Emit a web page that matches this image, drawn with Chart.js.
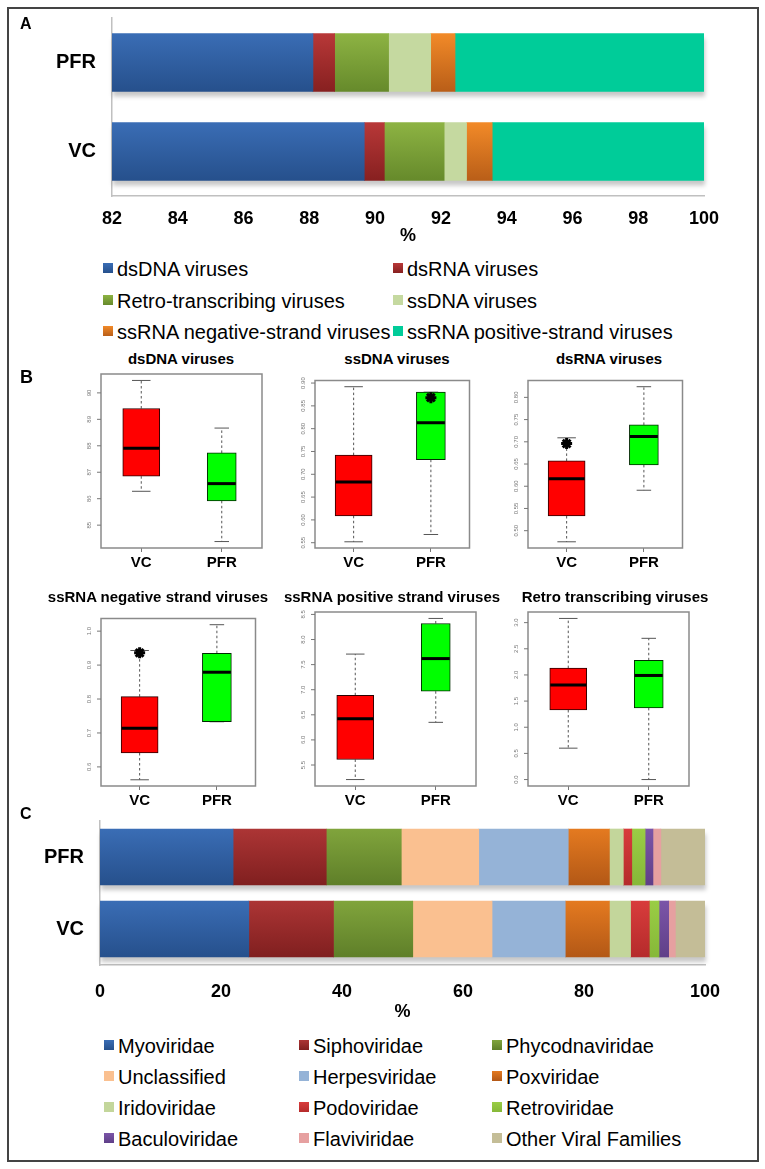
<!DOCTYPE html>
<html><head><meta charset="utf-8">
<script src="https://cdn.jsdelivr.net/npm/chart.js@4.4.0/dist/chart.umd.min.js"></script>
<style>
body{margin:0;background:#fff;width:765px;height:1169px;position:relative;overflow:hidden;font-family:"Liberation Sans",Arial,sans-serif;color:#000;}
#frame{position:absolute;left:7px;top:7px;width:752px;height:1155px;border:2px solid #444;box-sizing:border-box;}
.plabel{position:absolute;font-weight:bold;font-size:16px;line-height:16px;}
.leg{position:absolute;font-size:20px;line-height:20px;white-space:nowrap;}
.sq{position:absolute;width:10px;height:10px;}
.ttl{position:absolute;font-weight:bold;font-size:15px;line-height:16px;white-space:nowrap;transform:translateX(-50%);}
canvas{position:absolute;}
</style></head><body>
<div id="frame"></div>
<canvas id="cA" width="765" height="250" style="left:0;top:0"></canvas>
<canvas id="cC" width="765" height="230" style="left:0;top:800px"></canvas>
<div id="extra"></div>
<div class="plabel" style="left:20px;top:16px">A</div>
<div class="plabel" style="left:20px;top:369px;font-size:18px">B</div>
<div class="plabel" style="left:20px;top:806px">C</div>
<script>
// ---------- Panel A data ----------
const groupsA = ['PFR', 'VC'];
const seriesA = ['dsDNA viruses', 'dsRNA viruses', 'Retro-transcribing viruses', 'ssDNA viruses', 'ssRNA negative-strand viruses', 'ssRNA positive-strand viruses'];
const dsDNA_A = [88.11, 89.67];
const dsRNA_A = [0.66, 0.61];
const retro_A = [1.64, 1.82];
const ssDNA_A = [1.28, 0.68];
const ssRNAneg_A = [0.74, 0.78];
const ssRNApos_A = [7.57, 6.44];
const ticksA = [82, 84, 86, 88, 90, 92, 94, 96, 98, 100];

// ---------- Panel B data: [lower whisker, Q1, median, Q3, upper whisker] ----------
const boxTitles = ['dsDNA viruses', 'ssDNA viruses', 'dsRNA viruses', 'ssRNA negative strand viruses', 'ssRNA positive strand viruses', 'Retro transcribing viruses'];
const boxGroups = ['VC', 'PFR'];
const vcDsDNA = [86.28, 86.85, 87.91, 89.41, 90.47];
const pfrDsDNA = [84.38, 85.92, 86.57, 87.73, 88.67];
const vcSsDNA = [0.552, 0.609, 0.683, 0.742, 0.892];
const pfrSsDNA = [0.568, 0.732, 0.813, 0.880, 0.880];
const vcDsRNA = [0.475, 0.533, 0.617, 0.657, 0.709];
const pfrDsRNA = [0.591, 0.648, 0.712, 0.738, 0.824];
const vcSsRNAneg = [0.562, 0.641, 0.714, 0.807, 0.943];
const pfrSsRNAneg = [0.733, 0.733, 0.879, 0.935, 1.019];
const vcSsRNApos = [5.21, 5.61, 6.42, 6.89, 7.71];
const pfrSsRNApos = [6.35, 6.97, 7.62, 8.32, 8.42];
const vcRetro = [0.60, 1.33, 1.81, 2.13, 3.08];
const pfrRetro = [0.00, 1.37, 1.99, 2.28, 2.70];
const starGroup = [null, 'PFR', 'VC', 'VC', null, null];
const starValue = [null, 0.868, 0.696, 0.936, null, null];
const ticksDsDNA = ['85', '86', '87', '88', '89', '90'];
const ticksSsDNA = ['0.55', '0.60', '0.65', '0.70', '0.75', '0.80', '0.85', '0.90'];
const ticksDsRNA = ['0.50', '0.55', '0.60', '0.65', '0.70', '0.75', '0.80'];
const ticksSsRNAneg = ['0.6', '0.7', '0.8', '0.9', '1.0'];
const ticksSsRNApos = ['5.5', '6.0', '6.5', '7.0', '7.5', '8.0', '8.5'];
const ticksRetro = ['0.0', '0.5', '1.0', '1.5', '2.0', '2.5', '3.0'];

// ---------- Panel C data ----------
const groupsC = ['PFR', 'VC'];
const familiesC = ['Myoviridae', 'Siphoviridae', 'Phycodnaviridae', 'Unclassified', 'Herpesviridae', 'Poxviridae', 'Iridoviridae', 'Podoviridae', 'Retroviridae', 'Baculoviridae', 'Flaviviridae', 'Other Viral Families'];
const pfrC = [22.0, 15.4, 12.4, 12.8, 14.8, 6.8, 2.3, 1.4, 2.2, 1.3, 1.3, 7.3];
const vcC = [24.6, 14.0, 13.1, 13.1, 12.1, 7.3, 3.5, 3.1, 1.6, 1.6, 1.1, 4.9];
const ticksC = [0, 20, 40, 60, 80, 100];

// ---------- styles ----------
const colorsA = [['#3a6db5', '#26508c'], ['#b83838', '#872020'], ['#8db343', '#668a2b'], ['#c5d9a0', '#c5d9a0'], ['#f28a28', '#b95e18'], ['#00cc99', '#00cc99']];
const colorsC = [['#3a6db5', '#26508c'], ['#ac3535', '#801f1f'], ['#80a43c', '#5f7f29'], ['#fac090', '#fac090'], ['#95b3d7', '#95b3d7'], ['#e47a20', '#b35816'], ['#c3d69b', '#c3d69b'], ['#d83c3c', '#b52b2b'], ['#9acd45', '#86b838'], ['#7b55a8', '#5f3f88'], ['#e6a0a0', '#e6a0a0'], ['#c4bd97', '#c4bd97']];

Chart.defaults.font.family = '"Liberation Sans", Arial, sans-serif';
Chart.defaults.color = '#000';

function grad(ctx, c, thick) {
  if (c[0] === c[1] || ctx.type !== 'data') return c[0];
  const ys = ctx.chart.scales.y;
  if (!ys) return c[0];
  const yc = ys.getPixelForValue(ctx.dataIndex);
  if (!isFinite(yc)) return c[0];
  const g = ctx.chart.ctx.createLinearGradient(0, yc - thick / 2, 0, yc + thick / 2);
  g.addColorStop(0, c[0]); g.addColorStop(1, c[1]);
  return g;
}
function shadowPlugin(thick) {
  return {
    id: 'shadow',
    beforeDatasetsDraw(chart) {
      const c = chart.ctx, xs = chart.scales.x, ys = chart.scales.y;
      c.save();
      c.filter = 'blur(2px)';
      c.fillStyle = 'rgba(0,0,0,0.22)';
      chart.data.labels.forEach((l, i) => {
        const yc = ys.getPixelForValue(i);
        c.fillRect(chart.chartArea.left + 1, yc - thick / 2 + 5, xs.getPixelForValue(100) - chart.chartArea.left, thick);
      });
      c.restore();
    }
  };
}
function stackedBar(id, labels, names, values, colors, xmin, ticks, thick, xH, yW, pad, tickPad, titlePad) {
  const ch = new Chart(document.getElementById(id), {
    type: 'bar',
    data: {
      labels: labels,
      datasets: names.map((n, k) => ({
        label: n, data: values[k],
        backgroundColor: (ctx) => grad(ctx, colors[k], thick),
        borderWidth: 0, barThickness: thick
      }))
    },
    options: {
      indexAxis: 'y', animation: false, responsive: false, events: [],
      layout: { padding: pad },
      plugins: { legend: { display: false }, tooltip: { enabled: false } },
      scales: {
        x: {
          type: 'linear', stacked: true, min: xmin, max: 100,
          afterBuildTicks: (s) => { s.ticks = ticks.map(v => ({ value: v })); },
          ticks: { font: { size: 18, weight: 'bold' }, color: '#000', padding: tickPad, maxRotation: 0 },
          grid: { display: false, drawTicks: false },
          border: { color: '#c0c0c0', width: 1.5 },
          title: { display: true, text: '%', font: { size: 18, weight: 'bold' }, color: '#000', padding: { top: 0, bottom: titlePad } },
          afterFit: (s) => { s.height = xH; s.paddingLeft = 0; s.paddingRight = 0; s.paddingTop = 0; s.paddingBottom = 0; }
        },
        y: {
          stacked: true,
          ticks: { font: { size: 20, weight: 'bold' }, color: '#000', padding: 16 },
          grid: { display: false, drawTicks: false },
          border: { color: '#c0c0c0', width: 1.5 },
          afterFit: (s) => { s.width = yW; s.paddingTop = 0; s.paddingBottom = 0; s.paddingLeft = 0; s.paddingRight = 0; }
        }
      }
    },
    plugins: [shadowPlugin(thick)]
  });
  ch.update();
  return ch;
}

// Panel A
stackedBar('cA', groupsA, seriesA, [dsDNA_A, dsRNA_A, retro_A, ssDNA_A, ssRNAneg_A, ssRNApos_A], colorsA, 82, ticksA, 58, 54, 112, { top: 18, right: 61, left: 0, bottom: 0 }, 12, 3);

// Panel C
const valuesC = familiesC.map((f, k) => [pfrC[k], vcC[k]]);
stackedBar('cC', groupsC, familiesC, valuesC, colorsC, 0, ticksC, 56, 65, 100, { top: 21, right: 60, left: 0, bottom: 0 }, 16, 7);

// Legends
const extra = document.getElementById('extra');
function legendItem(text, col, x, baseline) {
  const sq = document.createElement('div');
  sq.className = 'sq';
  sq.style.left = x + 'px'; sq.style.top = (baseline - 13) + 'px';
  sq.style.background = 'linear-gradient(to bottom,' + col[0] + ',' + col[1] + ')';
  extra.appendChild(sq);
  const t = document.createElement('div');
  t.className = 'leg'; t.textContent = text;
  t.style.left = (x + 14) + 'px'; t.style.top = (baseline - 17) + 'px';
  extra.appendChild(t);
}
const legAx = [103, 393], legAy = [276, 308, 339];
seriesA.forEach((s, k) => legendItem(s, colorsA[k], legAx[k % 2], legAy[Math.floor(k / 2)]));
const legCx = [104, 299, 492], legCy = [1053, 1084, 1115, 1146];
familiesC.forEach((s, k) => legendItem(s, colorsC[k], legCx[k % 3], legCy[Math.floor(k / 3)]));

// Panel B boxplots
const boxVC = [vcDsDNA, vcSsDNA, vcDsRNA, vcSsRNAneg, vcSsRNApos, vcRetro];
const boxPFR = [pfrDsDNA, pfrSsDNA, pfrDsRNA, pfrSsRNAneg, pfrSsRNApos, pfrRetro];
const boxTicks = [ticksDsDNA, ticksSsDNA, ticksDsRNA, ticksSsRNAneg, ticksSsRNApos, ticksRetro];
const frameX = [101, 315, 528], frameY = [374, 612], frameW = 161, frameH = 174;
const titleX = [181, 397, 609, 158, 392, 615], titleY = [351, 589];
const boxW = [37, 29];

function boxPlugin(i) {
  const stats = [boxVC[i], boxPFR[i]];
  return {
    id: 'boxplot',
    beforeDatasetsDraw(chart) {
      const c = chart.ctx, xs = chart.scales.x, ys = chart.scales.y;
      c.save();
      c.strokeStyle = '#555'; c.lineWidth = 1;
      stats.forEach((s, g) => {
        const x = xs.getPixelForValue(g);
        c.setLineDash([2.5, 2.5]);
        c.beginPath();
        c.moveTo(x, ys.getPixelForValue(s[3])); c.lineTo(x, ys.getPixelForValue(s[4]));
        c.moveTo(x, ys.getPixelForValue(s[1])); c.lineTo(x, ys.getPixelForValue(s[0]));
        c.stroke();
        c.setLineDash([]);
        const hw = boxW[g] / 4;
        c.beginPath();
        [s[0], s[4]].forEach(v => { const y = ys.getPixelForValue(v); c.moveTo(x - hw, y); c.lineTo(x + hw, y); });
        c.stroke();
      });
      c.restore();
    },
    afterDatasetsDraw(chart) {
      const c = chart.ctx, xs = chart.scales.x, ys = chart.scales.y, a = chart.chartArea;
      c.save();
      c.strokeStyle = '#000'; c.lineWidth = 3;
      stats.forEach((s, g) => {
        const x = xs.getPixelForValue(g), y = ys.getPixelForValue(s[2]);
        c.beginPath(); c.moveTo(x - boxW[g] / 2 + 0.5, y); c.lineTo(x + boxW[g] / 2 - 0.5, y); c.stroke();
      });
      c.strokeStyle = '#8a8a8a'; c.lineWidth = 1.5;
      c.strokeRect(a.left, a.top, a.right - a.left, a.bottom - a.top);
      c.strokeStyle = '#777'; c.lineWidth = 1; c.fillStyle = '#777';
      c.font = '6px "Liberation Sans", Arial, sans-serif';
      c.textAlign = 'center'; c.textBaseline = 'middle';
      boxTicks[i].forEach(t => {
        const y = ys.getPixelForValue(parseFloat(t));
        c.beginPath(); c.moveTo(a.left - 4, y); c.lineTo(a.left, y); c.stroke();
        c.save(); c.translate(a.left - 12, y); c.rotate(-Math.PI / 2); c.fillText(t, 0, 0); c.restore();
      });
      c.restore();
    }
  };
}

boxTitles.forEach((title, i) => {
  const col = i % 3, row = Math.floor(i / 3);
  const cv = document.createElement('canvas');
  cv.width = frameW + 32; cv.height = frameH + 2 + 28;
  cv.style.left = (frameX[col] - 30) + 'px'; cv.style.top = (frameY[row] - 2) + 'px';
  extra.appendChild(cv);
  const t = document.createElement('div');
  t.className = 'ttl'; t.textContent = title;
  t.style.left = titleX[i] + 'px'; t.style.top = titleY[row] + 'px';
  extra.appendChild(t);
  const vc = boxVC[i], pf = boxPFR[i];
  const lo = Math.min(vc[0], pf[0]), hi = Math.max(vc[4], pf[4]);
  const ext = (hi - lo) * 0.04;
  const ds = [
    { data: [[vc[1], vc[3]], null], backgroundColor: '#ff0000', borderColor: '#2a0000', borderWidth: 1, borderSkipped: false, barThickness: boxW[0], grouped: false, order: 2 },
    { data: [null, [pf[1], pf[3]]], backgroundColor: '#00ff00', borderColor: '#002a00', borderWidth: 1, borderSkipped: false, barThickness: boxW[1], grouped: false, order: 2 }
  ];
  if (starGroup[i]) {
    ds.push({ type: 'line', data: [{ x: starGroup[i], y: starValue[i] }], showLine: false, pointStyle: 'star', pointRadius: 5.5, pointBorderWidth: 3, borderColor: '#000', backgroundColor: '#000', order: 0 });
  }
  new Chart(cv, {
    type: 'bar',
    data: { labels: boxGroups, datasets: ds },
    options: {
      animation: false, responsive: false, events: [],
      layout: { padding: { left: 0, right: 2, top: 2, bottom: 0 } },
      plugins: { legend: { display: false }, tooltip: { enabled: false } },
      scales: {
        x: {
          offset: true,
          ticks: { font: { size: 15, weight: 'bold' }, color: '#000', padding: 2 },
          grid: { display: true, drawOnChartArea: false, drawTicks: true, tickLength: 4, color: '#777', offset: false },
          border: { display: false },
          afterFit: (s) => { s.height = 28; }
        },
        y: {
          min: lo - ext, max: hi + ext,
          ticks: { display: false },
          grid: { display: false },
          border: { display: false },
          afterFit: (s) => { s.width = 30; }
        }
      }
    },
    plugins: [boxPlugin(i)]
  });
});
</script>
</body></html>
